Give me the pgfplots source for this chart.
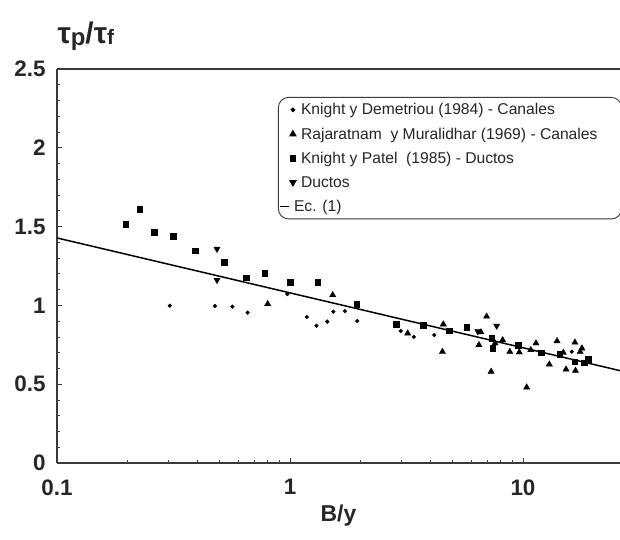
\documentclass[border=0pt]{standalone}
\usepackage{pgfplots}
\pgfplotsset{compat=1.18}
\usepackage{fontspec}
\setmainfont{Liberation Sans}
\definecolor{axgray}{HTML}{3A3A3A}
\begin{document}
\begin{tikzpicture}
\path[use as bounding box] (-57bp,-77bp) rectangle (563bp,463bp);
\begin{axis}[
  scale only axis, width=563bp, height=394bp,
  xmode=log, xmin=0.1, xmax=26.08, ymin=0, ymax=2.5,
  axis x line=box, axis y line=left,
  y axis line style={-},
  axis line style={draw=axgray, line width=1.6bp},
  xtick={0.1,1,10}, xticklabels={0.1,1,10},
  ytick={0,0.5,1,1.5,2,2.5},
  minor y tick num=4,
  xtick pos=left, ytick pos=left,
  tick align=inside,
  major tick length=5bp, minor tick length=3bp,
  every tick/.style={draw=axgray, line width=0.8bp},
  /pgf/number format/assume math mode=true,
  ticklabel style={font=\fontsize{22.5}{22.5}\selectfont\bfseries, text=black!85},
  xticklabel style={yshift=-13bp},
  yticklabel style={xshift=-8bp},
  xlabel={B/y},
  xlabel style={at={(axis description cs:0.5,0)}, anchor=center, yshift=-53bp, font=\fontsize{23}{23}\selectfont\bfseries, text=black!85},
  ylabel={\fontsize{30}{30}\selectfont τ\raisebox{-2bp}{\fontsize{24}{24}\selectfont p}/τ\raisebox{-1bp}{\fontsize{21}{21}\selectfont f}},
  ylabel style={at={(axis description cs:0,1)}, rotate=-90, anchor=base west, xshift=-3bp, yshift=25bp, font=\bfseries, text=black!85},
  legend style={at={(0.3925,0.929)}, anchor=north west, draw=axgray, rounded corners=10bp, line width=0.9bp,
    font=\fontsize{15.7}{18}\selectfont, text=black!85, row sep=7.5bp, inner xsep=1bp, inner ysep=4bp},
  legend cell align=left,
  legend image code/.code={\draw plot coordinates {(0.45cm,0cm)};},
]
% Knight y Demetriou (1984) - Canales
\addplot[only marks, mark=*, mark size=1.9bp, black] coordinates {
(0.305,0.998) (0.476,0.996) (0.566,0.992) (0.658,0.954) (0.974,1.072)
(1.18,0.926) (1.30,0.871) (1.445,0.897) (1.535,0.96) (1.72,0.964)
(1.945,0.901) (2.99,0.838) (3.4,0.80) (4.16,0.812) (16.2,0.706)
};
\addlegendentry{\hspace*{3bp}Knight y Demetriou (1984) - Canales}
% Rajaratnam y Muralidhar (1969) - Canales
\addplot[only marks, mark=triangle*, mark size=3.6bp, black] coordinates {
(0.802,1.009) (1.525,1.066) (3.2,0.823) (4.51,0.706) (4.55,0.88)
(6.98,0.93) (6.47,0.749) (6.6,0.83) (7.3,0.58) (7.59,0.76) (8.18,0.78)
(8.78,0.706) (9.64,0.703) (10.37,0.48) (10.8,0.717) (11.37,0.76)
(12.97,0.626) (14.0,0.774) (14.9,0.70) (15.3,0.594) (16.7,0.765)
(16.8,0.586) (17.6,0.706) (17.9,0.728)
};
\addlegendentry{\hspace*{3bp}Rajaratnam\ \ y Muralidhar (1969) - Canales\hspace*{21bp}}
% Knight y Patel (1985) - Ductos
\addplot[only marks, mark=square*, mark size=2.8bp, black] coordinates {
(0.197,1.515) (0.226,1.61) (0.262,1.464) (0.315,1.44) (0.391,1.347)
(0.521,1.273) (0.648,1.176) (0.779,1.206) (1.003,1.148) (1.315,1.148)
(1.933,1.009) (2.85,0.88) (3.73,0.876) (4.81,0.84) (5.73,0.861)
(7.34,0.791) (7.4,0.728) (9.56,0.749) (11.94,0.70) (14.4,0.692)
(16.7,0.643) (18.3,0.636) (19.1,0.658)
};
\addlegendentry{\hspace*{3bp}Knight y Patel\ \ (1985) - Ductos}
% Ductos
\addplot[only marks, mark=triangle*, mark size=3.6bp, mark options={rotate=180}, black] coordinates {
(0.486,1.358) (0.486,1.161) (7.71,0.87) (6.4,0.835)
};
\addlegendentry{\hspace*{3bp}Ductos}
% Ec. (1)
\addplot[black, line width=1.5bp, mark=none,
  legend image code/.code={\draw (0cm,0cm) -- (0.3cm,0cm);}] coordinates {
(0.1,1.428) (26.08,0.586)
};
\addlegendentry{\hspace*{-4bp}Ec. (1)}
\end{axis}
\end{tikzpicture}
\end{document}
